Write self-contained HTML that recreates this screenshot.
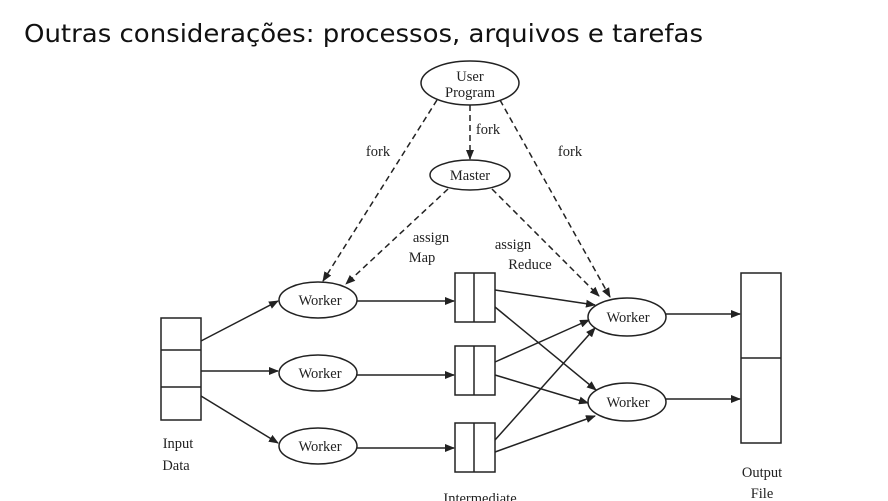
<!DOCTYPE html>
<html><head><meta charset="utf-8"><style>
body{margin:0;background:#fff;width:888px;height:501px;overflow:hidden}
svg{position:absolute;left:0;top:0}
</style></head><body>
<svg width="888" height="501" viewBox="0 0 888 501" xmlns="http://www.w3.org/2000/svg">
<defs><marker id="a" markerWidth="10" markerHeight="8" refX="9" refY="4" orient="auto" markerUnits="userSpaceOnUse"><path d="M0,0 L10,4 L0,8 z" fill="#222"/></marker></defs>
<rect width="888" height="501" fill="#fff"/>
<text x="24" y="42" font-family="DejaVu Sans, Liberation Sans, sans-serif" font-size="25" fill="#111" textLength="679" lengthAdjust="spacingAndGlyphs">Outras considerações: processos, arquivos e tarefas</text>
<g stroke="#222" stroke-width="1.5" fill="none">
<ellipse cx="470" cy="83" rx="49" ry="22"/>
<ellipse cx="470" cy="175" rx="40" ry="15"/>
<ellipse cx="318" cy="300" rx="39" ry="18"/>
<ellipse cx="318" cy="373" rx="39" ry="18"/>
<ellipse cx="318" cy="446" rx="39" ry="18"/>
<ellipse cx="627" cy="317" rx="39" ry="19"/>
<ellipse cx="627" cy="402" rx="39" ry="19"/>
<rect x="161" y="318" width="40" height="102"/><line x1="161" y1="350" x2="201" y2="350"/><line x1="161" y1="387" x2="201" y2="387"/>
<rect x="455" y="273" width="40" height="49"/><line x1="474" y1="273" x2="474" y2="322"/>
<rect x="455" y="346" width="40" height="49"/><line x1="474" y1="346" x2="474" y2="395"/>
<rect x="455" y="423" width="40" height="49"/><line x1="474" y1="423" x2="474" y2="472"/>
<rect x="741" y="273" width="40" height="170"/><line x1="741" y1="358" x2="781" y2="358"/>
<g stroke-dasharray="6,4">
<line x1="437" y1="100" x2="323" y2="281" marker-end="url(#a)"/>
<line x1="470" y1="105" x2="470" y2="159" marker-end="url(#a)"/>
<line x1="500" y1="100" x2="610" y2="297" marker-end="url(#a)"/>
<line x1="448" y1="189" x2="346" y2="284" marker-end="url(#a)"/>
<line x1="492" y1="189" x2="599" y2="296" marker-end="url(#a)"/>
</g>
<line x1="201" y1="341" x2="278" y2="301" marker-end="url(#a)"/>
<line x1="201" y1="371" x2="278" y2="371" marker-end="url(#a)"/>
<line x1="201" y1="396" x2="278" y2="443" marker-end="url(#a)"/>
<line x1="357" y1="301" x2="454" y2="301" marker-end="url(#a)"/>
<line x1="357" y1="375" x2="454" y2="375" marker-end="url(#a)"/>
<line x1="357" y1="448" x2="454" y2="448" marker-end="url(#a)"/>
<line x1="495" y1="290" x2="595" y2="305" marker-end="url(#a)"/>
<line x1="495" y1="307" x2="596" y2="390" marker-end="url(#a)"/>
<line x1="495" y1="362" x2="589" y2="320" marker-end="url(#a)"/>
<line x1="495" y1="375" x2="588" y2="403" marker-end="url(#a)"/>
<line x1="495" y1="440" x2="595" y2="328" marker-end="url(#a)"/>
<line x1="495" y1="452" x2="595" y2="416" marker-end="url(#a)"/>
<line x1="666" y1="314" x2="740" y2="314" marker-end="url(#a)"/>
<line x1="666" y1="399" x2="740" y2="399" marker-end="url(#a)"/>
</g>
<g font-family="Liberation Serif, serif" font-size="14.5" fill="#222" text-anchor="middle">
<text x="470" y="81">User</text><text x="470" y="97">Program</text>
<text x="470" y="180">Master</text>
<text x="320" y="305">Worker</text><text x="320" y="378">Worker</text><text x="320" y="451">Worker</text>
<text x="628" y="322">Worker</text><text x="628" y="407">Worker</text>
<text x="378" y="156">fork</text><text x="488" y="134">fork</text><text x="570" y="156">fork</text>
<text x="431" y="242">assign</text><text x="422" y="262">Map</text>
<text x="513" y="249">assign</text><text x="530" y="269">Reduce</text>
<text x="178" y="448">Input</text><text x="176" y="470">Data</text>
<text x="762" y="477">Output</text><text x="762" y="498">File</text>
<text x="480" y="503">Intermediate</text>
</g>
</svg>
</body></html>
